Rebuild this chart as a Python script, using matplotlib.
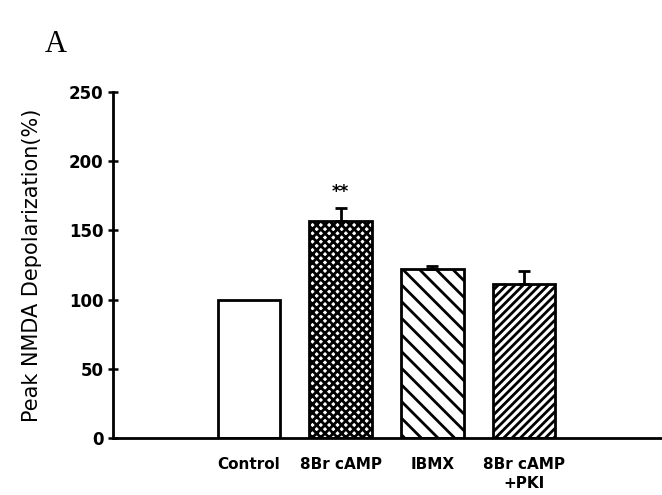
import numpy as np
import matplotlib
matplotlib.use("Agg")
import matplotlib.pyplot as plt

plt.rcParams['hatch.linewidth'] = 2.0

groups = ["Control", "8Br cAMP", "IBMX", "8Br cAMP\n+PKI"]
values = [100, 157, 122, 111]
errors = [0, 9, 2.5, 10]
hatches = ["", "xxxx", "\\\\", "////"]

fig = plt.figure(figsize=(6.62, 4.95), dpi=100)
ax = fig.add_axes([0.1707, 0.1152, 0.829, 0.699])

x = np.arange(len(groups))
for i in range(len(groups)):
    ax.bar(x[i], values[i], width=0.68, color="white", edgecolor="black",
           linewidth=2, hatch=hatches[i], zorder=2)
    if errors[i] > 0:
        ax.errorbar(x[i], values[i], yerr=[[0], [errors[i]]], fmt="none",
                    ecolor="black", elinewidth=2, capsize=4, capthick=2, zorder=3)

# significance marker
ax.text(x[1], values[1] + errors[1] + 5, "**", ha="center", va="bottom",
        fontsize=12, fontweight="bold")

ax.set_xlim(-1.48, 4.5)
ax.set_ylim(0, 250)
ax.set_yticks([0, 50, 100, 150, 200, 250])
ax.tick_params(axis="y", direction="inout", length=7, width=1.8,
               labelsize=12)
for lbl in ax.get_yticklabels():
    lbl.set_fontweight("bold")
ax.set_xticks(x)
ax.set_xticklabels(groups, fontsize=11, fontweight="bold", linespacing=1.3)
ax.tick_params(axis="x", length=0, pad=14)

ax.spines["top"].set_visible(False)
ax.spines["right"].set_visible(False)
ax.spines["left"].set_linewidth(2)
ax.spines["bottom"].set_linewidth(2)

ax.set_ylabel("Peak NMDA Depolarization(%)", fontsize=15, labelpad=19)

fig.text(0.068, 0.895, "A", fontsize=22, family="Liberation Serif")

plt.savefig("out.png", dpi=100)
